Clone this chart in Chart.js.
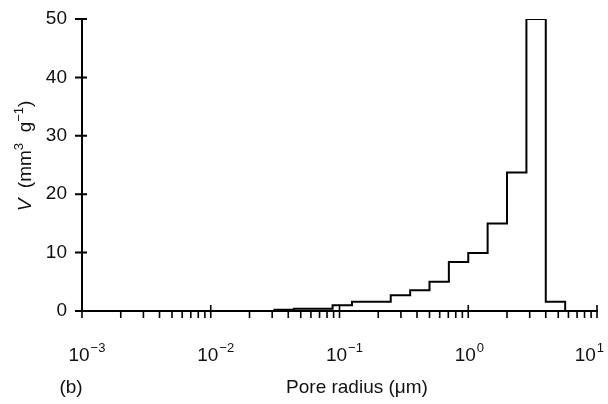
<!DOCTYPE html>
<html lang="en">
<head>
  <meta charset="UTF-8">
  <title>Pore volume distribution</title>
  <script src="https://cdn.jsdelivr.net/npm/chart.js"></script>
  <style>
    body { margin: 0; padding: 0; background: #fff; }
    canvas { display: block; }
  </style>
</head>
<body>
  <canvas id="poreChart" width="608" height="404"></canvas>

  <script>
    // Bin edges (pore radius, um) and pore volume per bin (mm3 g-1)
    const binEdges = [0.03125, 0.0442, 0.0625, 0.0884, 0.125, 0.177, 0.25, 0.354, 0.5, 0.707, 1, 1.414, 2, 2.83, 4, 5.66];
    const volumes = [0.2, 0.4, 0.4, 1.0, 1.6, 1.6, 2.7, 3.55, 5.0, 8.4, 9.95, 15.0, 23.7, 50, 1.6];
    const xDecades = [0.001, 0.01, 0.1, 1, 10];
    const xExponents = ['−3', '−2', '−1', '0', '1'];
    const yTicks = [0, 10, 20, 30, 40, 50];

    const FONT = '"Liberation Sans", Arial, sans-serif';

    // step outline: baseline from 1e-3, each bin, back down to zero, on to 10
    // (stepped 'before': each point's y holds until the next point's x)
    const outline = [{ x: 0.001, y: 0 }];
    volumes.forEach((v, i) => outline.push({ x: binEdges[i], y: v }));
    outline.push({ x: binEdges[binEdges.length - 1], y: 0 });
    outline.push({ x: 10, y: 0 });

    // draw a row of text pieces (mixed fonts, raised superscripts)
    function drawRuns(ctx, runs, x, y, align) {
      let total = 0;
      runs.forEach(r => { ctx.font = r.f; r.w = ctx.measureText(r.t).width; total += r.w; });
      let cx = align === 'center' ? x - total / 2 : (align === 'right' ? x - total : x);
      ctx.textAlign = 'left';
      runs.forEach(r => {
        ctx.font = r.f;
        ctx.fillText(r.t, cx, y + (r.dy || 0));
        cx += r.w;
      });
    }

    const axisDecor = {
      id: 'axisDecor',
      afterDraw(chart) {
        const { ctx, scales: { x, y } } = chart;
        const x0 = x.left, y0 = y.bottom;
        ctx.save();
        ctx.strokeStyle = '#000';
        ctx.fillStyle = '#111';
        ctx.lineWidth = 2;

        // y ticks cross the axis
        ctx.beginPath();
        yTicks.forEach(v => {
          const py = y.getPixelForValue(v);
          ctx.moveTo(x0 - 7, py);
          ctx.lineTo(x0 + 5, py);
        });
        ctx.stroke();

        // x ticks: majors cross the axis, minors hang below
        ctx.lineWidth = 1.6;
        ctx.beginPath();
        xDecades.forEach((d, i) => {
          const mults = i < xDecades.length - 1 ? [1, 2, 3, 4, 5, 6, 7, 8, 9] : [1];
          mults.forEach(m => {
            const px = x.getPixelForValue(d * m);
            ctx.moveTo(px, m === 1 ? y0 - 6 : y0);
            ctx.lineTo(px, y0 + 7);
          });
        });
        ctx.stroke();

        // y tick labels
        ctx.textBaseline = 'middle';
        ctx.textAlign = 'right';
        ctx.font = '19px ' + FONT;
        yTicks.forEach(v => ctx.fillText(String(v), x0 - 15, y.getPixelForValue(v)));

        // x tick labels as 10 with raised exponent, kept inside the canvas
        ctx.textBaseline = 'alphabetic';
        ctx.textAlign = 'left';
        xDecades.forEach((d, i) => {
          const px = x.getPixelForValue(d);
          ctx.font = '19px ' + FONT;
          const w = ctx.measureText('10').width;
          ctx.font = '13px ' + FONT;
          const we = ctx.measureText(xExponents[i]).width;
          const left = Math.min(px - w / 2 - 3, chart.width - 4 - (w + 1 + we));
          ctx.font = '19px ' + FONT;
          ctx.fillText('10', left, 361);
          ctx.font = '13px ' + FONT;
          ctx.fillText(xExponents[i], left + w + 1, 352);
        });

        // axis titles
        ctx.font = '19px ' + FONT;
        ctx.textAlign = 'center';
        ctx.fillText('Pore radius (μm)', 357, 393);
        ctx.fillText('(b)', 71, 393);

        ctx.translate(31, 156);
        ctx.rotate(-Math.PI / 2);
        drawRuns(ctx, [
          { t: 'V', f: 'italic 19px ' + FONT },
          { t: '  (mm', f: '19px ' + FONT },
          { t: '3', f: '13px ' + FONT, dy: -8 },
          { t: '  g', f: '19px ' + FONT },
          { t: '−1', f: '13px ' + FONT, dy: -8 },
          { t: ')', f: '19px ' + FONT }
        ], 0, 0, 'center');
        ctx.restore();
      }
    };

    new Chart(document.getElementById('poreChart').getContext('2d'), {
      type: 'line',
      data: {
        datasets: [{
          data: outline,
          stepped: 'before',
          borderColor: '#000',
          borderWidth: 2,
          pointRadius: 0,
          fill: false
        }]
      },
      options: {
        responsive: false,
        animation: false,
        layout: { padding: { left: 82, right: 11, top: 19, bottom: 93 } },
        plugins: { legend: { display: false }, tooltip: { enabled: false } },
        scales: {
          x: {
            type: 'logarithmic',
            min: 0.001,
            max: 10,
            ticks: { display: false },
            grid: { drawOnChartArea: false, drawTicks: false },
            border: { display: true, color: '#000', width: 2 }
          },
          y: {
            min: 0,
            max: 50,
            ticks: { display: false },
            grid: { drawOnChartArea: false, drawTicks: false },
            border: { display: true, color: '#000', width: 2 }
          }
        }
      },
      plugins: [axisDecor]
    });
  </script>
</body>
</html>
